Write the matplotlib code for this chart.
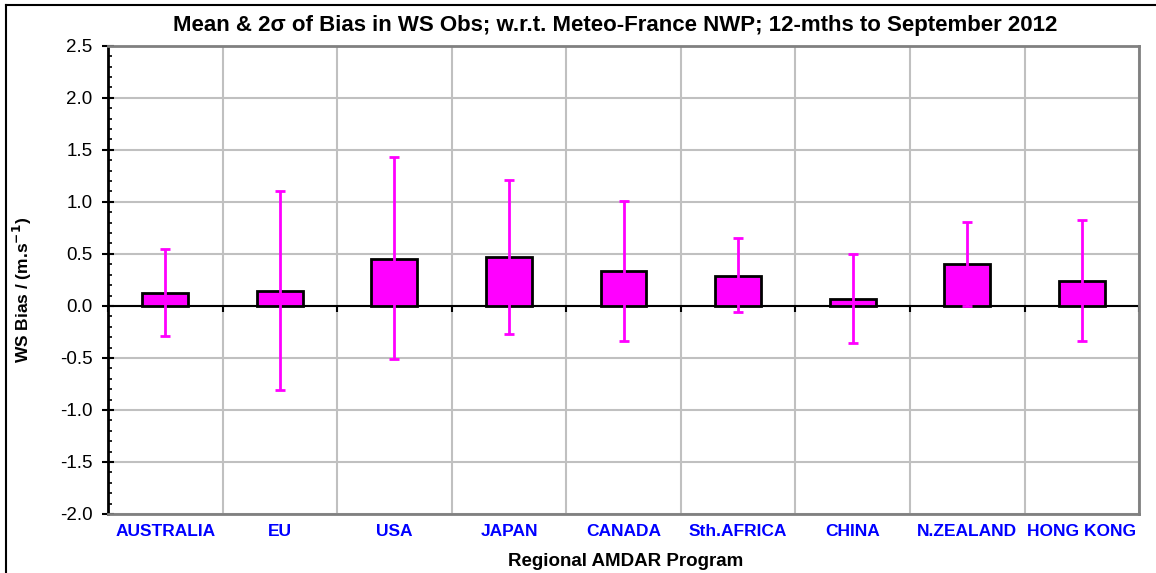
import matplotlib
matplotlib.use('Agg')
import matplotlib.pyplot as plt
import numpy as np
from matplotlib.lines import Line2D

plt.rcParams['font.family'] = ['Liberation Sans', 'DejaVu Sans']

regions = ['AUSTRALIA', 'EU', 'USA', 'JAPAN', 'CANADA', 'Sth.AFRICA', 'CHINA', 'N.ZEALAND', 'HONG KONG']
mean_bias = [0.12, 0.14, 0.45, 0.47, 0.34, 0.29, 0.07, 0.40, 0.24]
upper_2sd = [0.55, 1.10, 1.43, 1.21, 1.01, 0.65, 0.50, 0.81, 0.83]
lower_2sd = [-0.29, -0.81, -0.51, -0.27, -0.34, -0.06, -0.36, 0.00, -0.34]

mag = '#FF00FF'
grid_col = '#C0C0C0'
W, H = 1156, 573

fig = plt.figure(figsize=(W / 100, H / 100), dpi=100)
ax = fig.add_axes([0.0934, 0.103, 0.892, 0.817])

x = np.arange(len(regions))
means = np.array(mean_bias)
yerr = [means - np.array(lower_2sd), np.array(upper_2sd) - means]

ax.bar(x, means, width=0.4, color=mag, edgecolor='black', linewidth=2, zorder=3)
ax.errorbar(x, means, yerr=yerr, fmt='none', ecolor=mag, elinewidth=2,
            capsize=3.5, capthick=2, zorder=4)

ax.set_xlim(-0.5, len(regions) - 0.5)
ax.set_ylim(-2.0, 2.5)

# zero line with small ticks at category boundaries
bounds = np.arange(len(regions) + 1) - 0.5
ax.axhline(0, color='black', linewidth=1.5, zorder=2)
ax.plot(bounds, np.zeros(len(bounds)), linestyle='none', marker=3,
        markersize=4, markeredgewidth=1.5, color='black', zorder=2, clip_on=False)

# grid
ax.set_yticks(np.arange(-2.0, 2.51, 0.5))
ax.set_yticks(np.arange(-2.0, 2.51, 0.1), minor=True)
ax.set_xticks(x)
ax.set_xticks(bounds, minor=True)
ax.grid(which='major', axis='y', color=grid_col, linewidth=1.5, zorder=0)
ax.grid(which='minor', axis='x', color=grid_col, linewidth=1.5, zorder=0)
ax.set_axisbelow(True)

ax.set_yticklabels(['%.1f' % v for v in np.arange(-2.0, 2.51, 0.5)], fontsize=13.5)
ax.set_xticklabels(regions, fontsize=12.5, fontweight='bold', color='#0000FF')
ax.tick_params(axis='x', which='both', length=0, pad=7)
ax.tick_params(axis='y', which='major', direction='inout', length=8, width=1.5, pad=7)
ax.tick_params(axis='y', which='minor', direction='in', length=3, width=1.2)

for s in ['top', 'right', 'bottom']:
    ax.spines[s].set_color('#808080')
    ax.spines[s].set_linewidth(2)
ax.spines['left'].set_color('black')
ax.spines['left'].set_linewidth(2)

fig.text(615 / W, 1 - 25 / H,
         'Mean & 2\u03c3 of Bias in WS Obs; w.r.t. Meteo-France NWP; 12-mths to September 2012',
         fontsize=16, fontweight='bold', ha='center', va='center')
fig.text(626 / W, 1 - 561 / H, 'Regional AMDAR Program', fontsize=13.5,
         fontweight='bold', ha='center', va='center')
fig.text(22 / W, 1 - 290 / H, 'WS Bias / (m.s$^{\\mathbf{-1}}$)', fontsize=12.5,
         fontweight='bold', rotation=90, ha='center', va='center')

# outer chart frame
fig.add_artist(Line2D([0.005, 0.005], [0.0, 0.991], transform=fig.transFigure, color='black', linewidth=1.5))
fig.add_artist(Line2D([0.005, 1.0], [0.991, 0.991], transform=fig.transFigure, color='black', linewidth=1.5))

fig.savefig('out.png', dpi=100)
